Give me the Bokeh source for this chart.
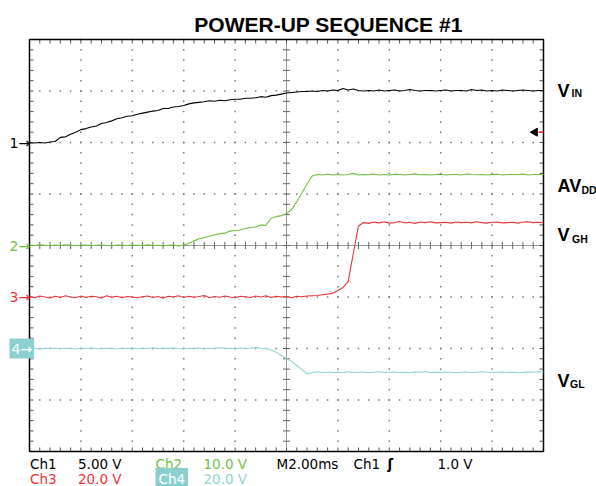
import numpy as np
from bokeh.plotting import figure
from bokeh.models import Range1d, Label
from bokeh.embed import file_html
from bokeh.resources import INLINE

# ------------------------------------------------------------------ data
title_text = "POWER-UP SEQUENCE #1"

# sample clock of the record (ms), one sample every 0.2 ms
t_ms = np.round(np.arange(0, 20.0001, 0.2), 1)

# Ch1 : V_IN (volts)
ch1_v = [
    -0.05, -0.05, 0.0, -0.05, 0.05, 0.1, 0.5, 0.55, 0.8, 1.0,
    1.25, 1.35, 1.5, 1.6, 1.85, 1.95, 2.1, 2.3, 2.4, 2.55,
    2.6, 2.75, 2.85, 2.95, 3.05, 3.1, 3.3, 3.3, 3.45, 3.5,
    3.6, 3.75, 3.85, 3.9, 3.95, 4.05, 4.0, 4.1, 4.05, 4.15,
    4.2, 4.2, 4.3, 4.3, 4.35, 4.45, 4.4, 4.55, 4.6, 4.7,
    4.8, 4.85, 4.9, 4.95, 4.95, 5.0, 4.95, 5.05, 5.0, 5.1,
    5.05, 5.25, 5.1, 5.2, 5.05, 5.0, 5.05, 5.0, 5.1, 5.0,
    5.05, 5.1, 5.0, 5.05, 5.15, 5.05, 5.0, 5.05, 5.05, 5.0,
    5.05, 5.1, 5.0, 5.05, 5.05, 5.0, 5.15, 5.05, 5.1, 5.0,
    5.05, 5.0, 5.1, 5.05, 5.0, 5.05, 5.1, 5.05, 5.0, 5.05,
    5.05]

# Ch2 : AV_DD (volts)
ch2_v = [
    0.1, 0.0, 0.15, 0.05, -0.05, 0.1, 0.0, 0.15, 0.1, -0.05,
    0.05, 0.1, 0.0, 0.05, 0.1, 0.0, -0.05, 0.1, 0.05, 0.0,
    0.1, 0.05, 0.0, 0.15, 0.0, 0.05, -0.1, 0.05, 0.1, -0.1,
    0.1, 0.4, 0.9, 1.3, 1.5, 1.8, 2.1, 2.3, 2.4, 2.8,
    2.9, 3.0, 3.3, 3.5, 3.6, 4.0, 3.9, 5.3, 5.6, 5.8,
    6.2, 7.0, 8.5, 10.2, 12.0, 13.5, 13.8, 13.7, 13.9, 13.7,
    13.8, 13.7, 13.8, 14.0, 13.7, 13.8, 13.75, 13.9, 13.7, 13.8,
    13.7, 13.85, 13.8, 13.7, 13.8, 13.9, 13.75, 13.8, 13.7, 13.8,
    13.85, 13.7, 13.8, 13.8, 13.7, 13.9, 13.8, 13.75, 13.8, 13.7,
    13.8, 13.85, 13.7, 13.8, 13.8, 13.75, 13.9, 13.7, 13.8, 13.8,
    13.8]

# Ch3 : V_GH (volts)
ch3_v = [
    0.2, -0.3, 0.4, 0.0, -0.4, 0.3, -0.2, 0.5, 0.0, -0.3,
    0.4, -0.2, 0.3, 0.1, -0.4, 0.5, -0.1, 0.3, -0.3, 0.2,
    0.0, -0.3, 0.1, 0.4, -0.2, 0.2, -0.4, 0.3, 0.0, 0.5,
    -0.2, 0.3, -0.1, 0.2, 0.6, -0.3, 0.2, -0.1, 0.4, 0.0,
    -0.3, 0.3, 0.1, -0.2, 0.4, 0.0, 0.5, -0.2, 0.3, 0.0,
    0.2, -0.3, 0.3, 0.1, 0.4, 0.5, 0.6, 0.9, 1.1, 1.5,
    2.5, 3.7, 6.0, 16.9, 27.6, 28.9, 28.6, 29.1, 28.8, 29.2,
    28.7, 28.9, 29.3, 28.8, 29.0, 28.6, 29.1, 28.9, 29.2, 28.8,
    28.9, 29.0, 28.7, 29.1, 28.9, 29.0, 28.8, 29.2, 28.9, 28.7,
    29.0, 29.1, 28.8, 28.9, 29.0, 28.7, 29.1, 29.2, 28.9, 29.0,
    28.9]

# Ch4 : V_GL (volts)
ch4_v = [
    0.0, 0.2, -0.2, 0.1, 0.0, 0.2, -0.1, 0.1, 0.0, -0.2,
    0.1, 0.0, 0.2, -0.1, 0.0, 0.1, 0.0, -0.2, 0.1, 0.0,
    0.2, -0.1, 0.1, 0.0, 0.3, -0.1, 0.1, 0.0, 0.2, 0.0,
    -0.1, 0.1, 0.0, 0.2, -0.1, 0.0, 0.1, 0.3, 0.0, 0.1,
    -0.1, 0.2, 0.0, 0.1, 0.4, 0.1, 0.0, -0.6, -1.5, -2.7,
    -4.0, -5.0, -6.6, -8.2, -9.9, -9.3, -9.0, -9.4, -9.1, -9.3,
    -9.2, -9.4, -9.0, -9.3, -9.2, -9.1, -9.4, -9.2, -9.0, -9.3,
    -9.2, -9.1, -9.3, -9.2, -9.4, -9.1, -9.2, -9.0, -9.3, -9.2,
    -9.3, -9.1, -9.2, -9.4, -9.2, -9.1, -9.3, -9.2, -9.0, -9.2,
    -9.3, -9.2, -9.1, -9.3, -9.2, -9.4, -9.2, -9.1, -9.2, -9.0,
    -9.1]

channel_names = ["Ch1", "Ch2", "Ch3", "Ch4"]
volts_per_div = [5.0, 10.0, 20.0, 20.0]
ground_div = [2, 0, -1, -2]          # ground marker position, divisions from centre
scale_labels = ["5.00 V", "10.0 V", "20.0 V", "20.0 V"]
trace_names = [("V", "IN"), ("AV", "DD"), ("V", "GH"), ("V", "GL")]
ms_per_div = 2.0
timebase_label = "M2.00ms"
trigger_source = "Ch1"
trigger_level_v = 1.0
trigger_label = "1.0 V"

# ------------------------------------------------------------------ style
COLORS = ["#000000", "#72bf44", "#ee3338", "#8fd3d3"]
CH4_BOX = "#8ccfcf"
N_XDIV, N_YDIV = 10, 8
W, H = 596, 486
FL, FT, FR, FB = 29, 39, 543, 451   # graticule edges in canvas pixels

X0, X1 = 0.0, ms_per_div * N_XDIV
Y0, Y1 = -N_YDIV / 2, N_YDIV / 2
PXX = (FR - FL) / (X1 - X0)          # pixels per ms
PXY = (FB - FT) / (Y1 - Y0)          # pixels per division


def dx(px):
    return X0 + (px - FL) / PXX


def dy(py):
    return Y1 - (py - FT) / PXY


XS, XE = dx(0), dx(W)
YS, YE = dy(H), dy(0)

p = figure(width=W, height=H, output_backend="svg", toolbar_location=None,
           x_range=Range1d(XS, XE), y_range=Range1d(YS, YE),
           x_axis_location=None, y_axis_location=None,
           min_border_left=0, min_border_top=0, min_border_right=0, min_border_bottom=0)
p.xgrid.visible = False
p.ygrid.visible = False
p.outline_line_color = None
p.background_fill_color = "white"
p.border_fill_color = "white"

# per-channel vertical scales (volts), sharing the division grid
for i, name in enumerate(channel_names):
    vpd, g = volts_per_div[i], ground_div[i]
    p.extra_y_ranges[name] = Range1d((YS - g) * vpd, (YE - g) * vpd)

# ------------------------------------------------------------------ graticule
minor_x = np.arange(X0, X1 + 1e-9, ms_per_div / 5)
minor_y = np.arange(Y0, Y1 + 1e-9, 0.2)
gx, gy = [], []
for yy in range(int(Y0) + 1, int(Y1)):
    if yy == 0:
        continue
    gx += list(minor_x)
    gy += [yy] * len(minor_x)
for k in range(1, N_XDIV):
    if k == N_XDIV // 2:
        continue
    gx += [k * ms_per_div] * len(minor_y)
    gy += list(minor_y)
p.scatter(gx, gy, marker="square", size=1.5, fill_color="#7a7a7a", line_color=None)

xc = (X0 + X1) / 2
p.line([X0, X1], [0, 0], line_color="#333333", line_width=1, line_dash="1 1")
p.line([xc, xc], [Y0, Y1], line_color="#333333", line_width=1, line_dash="1 1")
p.scatter(minor_x, [0] * len(minor_x), marker="dash", angle=np.pi / 2, size=7,
          line_color="#666666", line_width=1)
p.scatter([xc] * len(minor_y), minor_y, marker="dash", size=7,
          line_color="#666666", line_width=1)

# edge ticks pointing inward
tl_x = 4 / PXX
tl_y = 4 / PXY
p.segment(x0=list(minor_x) * 2, y0=[Y0] * len(minor_x) + [Y1] * len(minor_x),
          x1=list(minor_x) * 2, y1=[Y0 + tl_y] * len(minor_x) + [Y1 - tl_y] * len(minor_x),
          line_color="#555555", line_width=1)
p.segment(x0=[X0] * len(minor_y) + [X1] * len(minor_y), y0=list(minor_y) * 2,
          x1=[X0 + tl_x] * len(minor_y) + [X1 - tl_x] * len(minor_y), y1=list(minor_y) * 2,
          line_color="#555555", line_width=1)

# graticule border
p.line([X0, X1, X1, X0, X0], [Y0, Y0, Y1, Y1, Y0], line_color="black", line_width=1.5)

# ------------------------------------------------------------------ traces
for name, vals, col in zip(channel_names, [ch1_v, ch2_v, ch3_v, ch4_v], COLORS):
    p.line(t_ms, vals, y_range_name=name, line_color=col, line_width=1.1)

# trigger level marker
p.scatter([dx(534.5)], [trigger_level_v], y_range_name=trigger_source, marker="triangle",
          angle=np.pi / 2, size=8, fill_color="black", line_color="black")
p.segment(x0=[dx(538)], y0=[trigger_level_v], x1=[X1], y1=[trigger_level_v],
          y_range_name=trigger_source, line_color=COLORS[2], line_width=1.5)

# ------------------------------------------------------------------ texts
SANS = "Liberation Sans"
MONO = "DejaVu Sans"

p.add_layout(Label(x=dx(328), y=dy(23.5), text=title_text, text_align="center",
                   text_baseline="alphabetic", text_font=SANS, text_font_style="bold",
                   text_font_size="21px", text_color="black"))

# ground markers on the left
for i, name in enumerate(channel_names):
    kw = dict(text_color=COLORS[i])
    if i == 3:
        kw = dict(text_color="white", background_fill_color=CH4_BOX, padding=2)
    p.add_layout(Label(x=dx(9), y=0, y_range_name=name, text=f"{i + 1}\u2192",
                       text_align="left", text_baseline="middle", text_font=MONO,
                       text_font_size="14px", **kw))

# trace names on the right
name_pos = [(557, 571, 90, 92), (557, 581, 185, 189), (557, 571.5, 234, 238.5),
            (557, 569.5, 380, 383.5)]
for (main, sub), (xm, xs, ym, ys) in zip(trace_names, name_pos):
    p.add_layout(Label(x=dx(xm), y=dy(ym), text=main, text_align="left",
                       text_baseline="alphabetic", text_font=SANS, text_font_style="bold",
                       text_font_size="18px", text_color="black"))
    p.add_layout(Label(x=dx(xs), y=dy(ys), text=sub, text_align="left",
                       text_baseline="alphabetic", text_font=SANS, text_font_style="bold",
                       text_font_size="10.5px", text_color="black"))

# readout below the graticule
row_y = [dy(463.5), dy(478.5)]
slot = {0: (0, 29.5, 77.5), 1: (0, 155, 203), 2: (1, 29.5, 77.5), 3: (1, 155, 203)}
for i, name in enumerate(channel_names):
    r, xa, xb = slot[i]
    kw = dict(text_color=COLORS[i])
    if i == 3:
        kw = dict(text_color="white", background_fill_color=CH4_BOX, padding=3)
    p.add_layout(Label(x=dx(xa), y=row_y[r], text=name, text_align="left",
                       text_baseline="alphabetic", text_font=MONO, text_font_size="13.5px", **kw))
    p.add_layout(Label(x=dx(xb), y=row_y[r], text=scale_labels[i], text_align="left",
                       text_baseline="alphabetic", text_font=MONO, text_font_size="13.5px",
                       text_color=COLORS[i]))

for txt, xp, st in [(timebase_label, 276, "normal"), (trigger_source, 353, "normal"),
                    ("\u0283", 387, "bold"), (trigger_label, 437, "normal")]:
    p.add_layout(Label(x=dx(xp), y=row_y[0], text=txt, text_align="left",
                       text_baseline="alphabetic", text_font=MONO, text_font_size="13.5px",
                       text_font_style=st, text_color="black"))

open("out.html", "w").write(file_html(p, INLINE))
